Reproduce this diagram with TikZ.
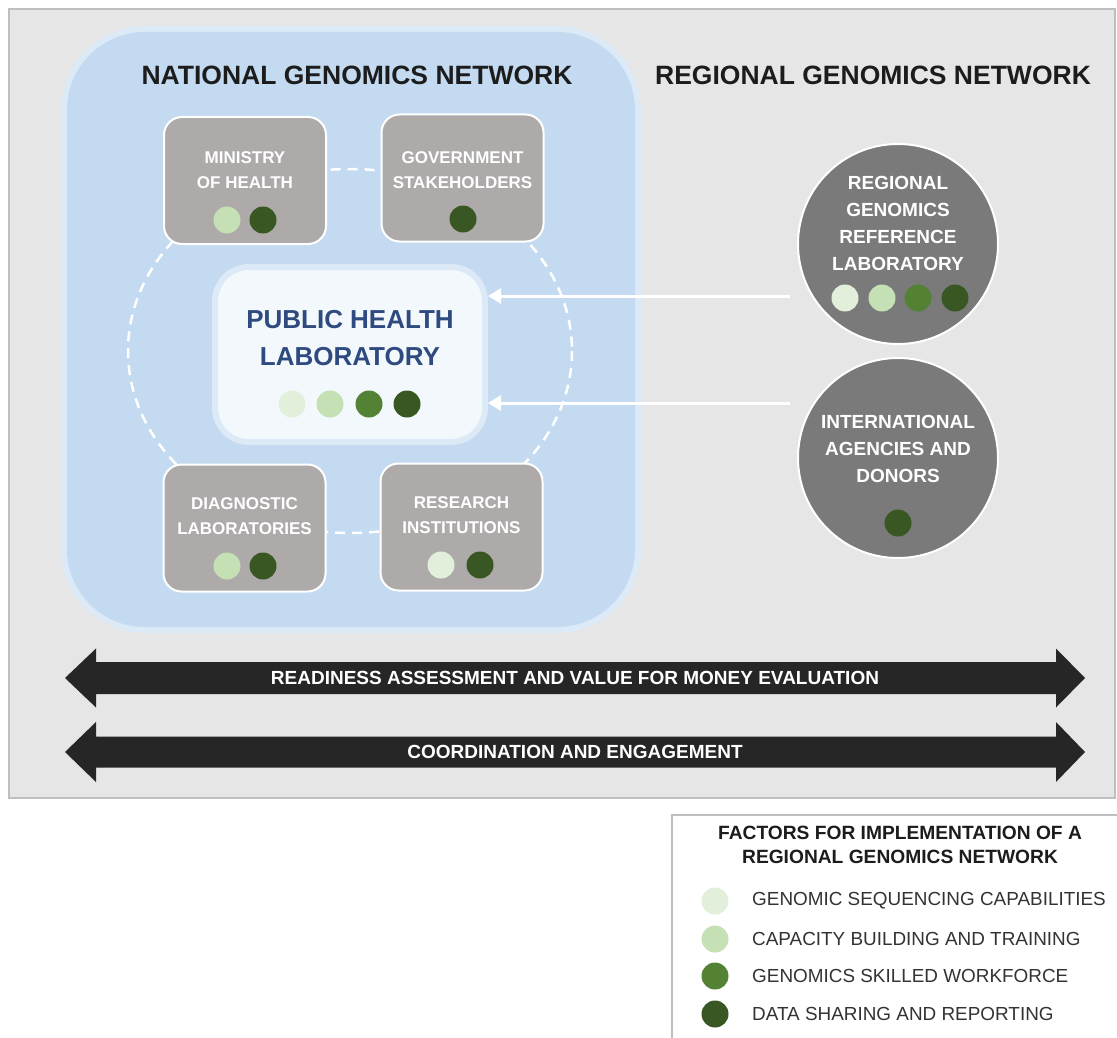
\documentclass[tikz,border=0pt]{standalone}
\usepackage{fontspec}
\setmainfont{Liberation Sans}
\usetikzlibrary{arrows.meta,calc}
\definecolor{bggray}{HTML}{E6E6E6}
\definecolor{frame}{HTML}{BFBFBF}
\definecolor{ringblue}{HTML}{DCE9F6}
\definecolor{natblue}{HTML}{C3DAF0}
\definecolor{phlfill}{HTML}{F3F8FD}
\definecolor{boxgray}{HTML}{AEAAAA}
\definecolor{circgray}{HTML}{7A7A7A}
\definecolor{phlblue}{HTML}{2E4A7E}
\definecolor{gA}{HTML}{E2EFDA}
\definecolor{gB}{HTML}{C5E0B4}
\definecolor{gC}{HTML}{548235}
\definecolor{gD}{HTML}{385723}
\definecolor{blk}{HTML}{262626}
\definecolor{ttl}{HTML}{1C1C1C}
\definecolor{legtxt}{HTML}{333333}
\tikzset{
  orgbox/.style={draw=white, line width=2pt, fill=boxgray, rounded corners=18pt,
    minimum width=162pt, minimum height=127pt, inner sep=0pt},
  orglbl/.style={text=white, align=center, font=\fontsize{17}{25}\selectfont\bfseries, inner sep=0pt},
  circlbl/.style={text=white, align=center, font=\fontsize{19}{27}\selectfont\bfseries, inner sep=0pt},
  gdot/.style={circle, minimum size=27pt, inner sep=0pt, draw=none},
  regcirc/.style={circle, fill=circgray, draw=white, line width=2pt, minimum size=200pt, inner sep=0pt},
  nettitle/.style={text=ttl, font=\fontsize{26.5}{30}\selectfont\bfseries, inner sep=0pt},
  arrtxt/.style={text=white, font=\fontsize{19}{22}\selectfont\bfseries, inner sep=0pt},
  legitem/.style={text=legtxt, font=\fontsize{18.9}{22}\selectfont, anchor=west, inner sep=0pt},
  warr/.style={draw=white, line width=3pt, -{Triangle[length=13pt,width=15pt]}},
  dashring/.style={draw=white, line width=2.5pt, dash pattern=on 10pt off 7pt}
}
\begin{document}
\begin{tikzpicture}[x=1pt,y=-1pt]
\useasboundingbox (0,0) rectangle (1117,1038);
\fill[white] (0,0) rectangle (1117,1038);
% outer frame
\draw[frame, line width=2pt, fill=bggray] (9,9) rectangle (1115,798);
% national network area
\fill[ringblue, rounded corners=84pt] (61,26) rectangle (641,633);
\fill[natblue, rounded corners=78pt] (67,32) rectangle (635,627);
% titles
\node[nettitle] (natT) at (357,75) {NATIONAL GENOMICS NETWORK};
\node[nettitle] (regT) at (873,75) {REGIONAL GENOMICS NETWORK};
% dashed ring behind boxes
\draw[dashring] (350,351) ellipse [x radius=222, y radius=182];
% organisation boxes
\node[orgbox] (moh) at (245,180.5) {};
\node[orglbl] (mohL) at (245,170.5) {MINISTRY\\OF HEALTH};
\node[gdot, fill=gB] (mohD1) at (227,220) {};
\node[gdot, fill=gD] (mohD2) at (263,220) {};

\node[orgbox] (gov) at (462.5,178) {};
\node[orglbl] (govL) at (462.5,170) {GOVERNMENT\\STAKEHOLDERS};
\node[gdot, fill=gD] (govD1) at (463,219) {};

\node[orgbox] (dia) at (244.5,528) {};
\node[orglbl] (diaL) at (244.5,516.5) {DIAGNOSTIC\\LABORATORIES};
\node[gdot, fill=gB] (diaD1) at (227,566) {};
\node[gdot, fill=gD] (diaD2) at (263,566) {};

\node[orgbox] (res) at (461.5,527) {};
\node[orglbl] (resL) at (461.5,515) {RESEARCH\\INSTITUTIONS};
\node[gdot, fill=gA] (resD1) at (441,565) {};
\node[gdot, fill=gD] (resD2) at (480,565) {};
% public health laboratory
\node[draw=ringblue, line width=6pt, fill=phlfill, rounded corners=34pt,
      minimum width=270pt, minimum height=175pt, inner sep=0pt] (phl) at (350,354.5) {};
\node[text=phlblue, align=center, font=\fontsize{26}{37}\selectfont\bfseries, inner sep=0pt]
      (phlL) at (350,338.5) {PUBLIC HEALTH\\LABORATORY};
\node[gdot, fill=gA] (phlD1) at (292,404) {};
\node[gdot, fill=gB] (phlD2) at (330,404) {};
\node[gdot, fill=gC] (phlD3) at (369,404) {};
\node[gdot, fill=gD] (phlD4) at (407,404) {};
% regional circles
\node[regcirc] (reg) at (898,244) {};
\node[circlbl] (regL) at (898,223.5) {REGIONAL\\GENOMICS\\REFERENCE\\LABORATORY};
\node[gdot, fill=gA] (regD1) at (845,298) {};
\node[gdot, fill=gB] (regD2) at (882,298) {};
\node[gdot, fill=gC] (regD3) at (918,298) {};
\node[gdot, fill=gD] (regD4) at (955,298) {};

\node[regcirc] (intl) at (898,458) {};
\node[circlbl] (intlL) at (898,449) {INTERNATIONAL\\AGENCIES AND\\DONORS};
\node[gdot, fill=gD] (intlD1) at (898,523) {};
% white arrows
\coordinate (a1) at (790,296);
\coordinate (a2) at (790,403);
\draw[warr] (a1) -- (a1 -| phl.east);
\draw[warr] (a2) -- (a2 -| phl.east);
% black double arrows
\fill[blk] (65,678) -- (96,648.5) -- (96,662) -- (1056,662) -- (1056,648.5) -- (1085,678)
  -- (1056,707.5) -- (1056,694) -- (96,694) -- (96,707.5) -- cycle;
\node[arrtxt] (arr1) at (575,678) {READINESS ASSESSMENT AND VALUE FOR MONEY EVALUATION};
\fill[blk] (65,752) -- (96,722) -- (96,736.5) -- (1056,736.5) -- (1056,722) -- (1085,752)
  -- (1056,782) -- (1056,767.5) -- (96,767.5) -- (96,782) -- cycle;
\node[arrtxt] (arr2) at (575,752) {COORDINATION AND ENGAGEMENT};
% legend
\draw[frame, line width=2pt] (672,1040) -- (672,815) -- (1119,815);
\node[text=ttl, align=center, font=\fontsize{19.2}{24}\selectfont\bfseries, inner sep=0pt]
  (legT) at (900,845) {FACTORS FOR IMPLEMENTATION OF A\\REGIONAL GENOMICS NETWORK};
\node[gdot, fill=gA] (lD1) at (715,901) {};
\node[gdot, fill=gB] (lD2) at (715,939) {};
\node[gdot, fill=gC] (lD3) at (715,976) {};
\node[gdot, fill=gD] (lD4) at (715,1014) {};
\node[legitem] (l1) at (752,901) {GENOMIC SEQUENCING CAPABILITIES};
\node[legitem] (l2) at (752,939) {CAPACITY BUILDING AND TRAINING};
\node[legitem] (l3) at (752,976) {GENOMICS SKILLED WORKFORCE};
\node[legitem] (l4) at (752,1014) {DATA SHARING AND REPORTING};
\end{tikzpicture}
\end{document}
